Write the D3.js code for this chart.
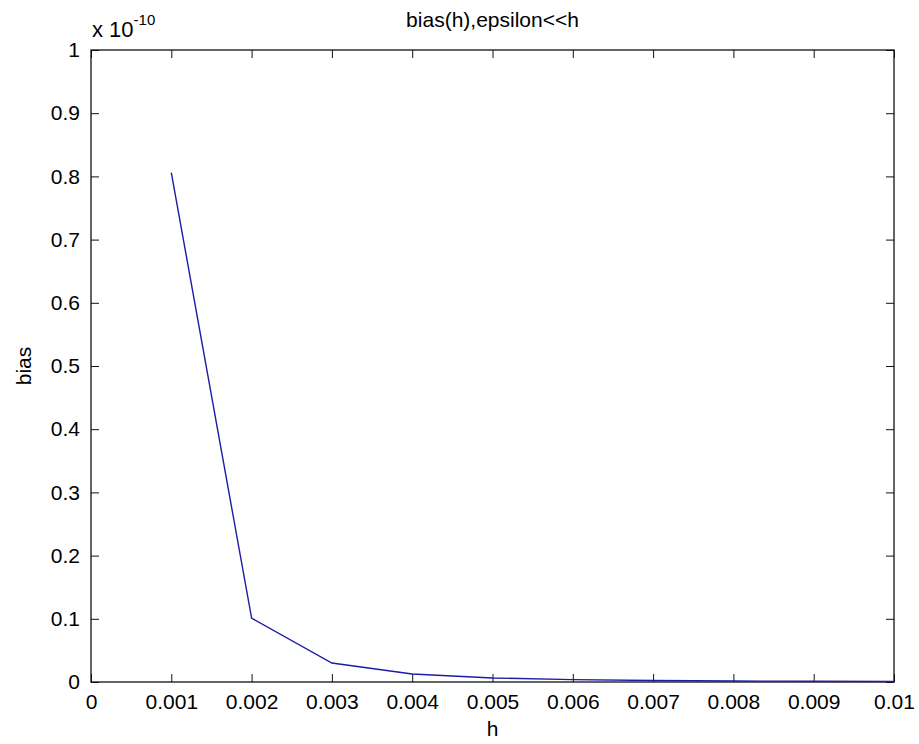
<!DOCTYPE html>
<html><head><meta charset="utf-8">
<script src="https://cdn.jsdelivr.net/npm/d3@7"></script>
<style>body{margin:0;background:#fff;} text{font-family:"Liberation Sans",Arial,sans-serif;fill:#000;}</style>
</head><body>
<svg id="c" width="919" height="744"></svg>
<script>
const hValues = [0.001,0.002,0.003,0.004,0.005,0.006,0.007,0.008,0.009,0.010];
const biasValues = [0.806,0.101,0.030,0.0126,0.0064,0.0037,0.0024,0.0016,0.0011,0.0008];
const xTicks = [0,0.001,0.002,0.003,0.004,0.005,0.006,0.007,0.008,0.009,0.01];
const xTickLabels = ["0","0.001","0.002","0.003","0.004","0.005","0.006","0.007","0.008","0.009","0.01"];
const yTicks = [0,0.1,0.2,0.3,0.4,0.5,0.6,0.7,0.8,0.9,1];
const yTickLabels = ["0","0.1","0.2","0.3","0.4","0.5","0.6","0.7","0.8","0.9","1"];

const L=91,R=894,T=50,B=682;
const svg=d3.select("#c");
const x=d3.scaleLinear().domain([0,0.01]).range([L,R]);
const y=d3.scaleLinear().domain([0,1]).range([B,T]);
const tl=8, fs=21;

const axB=d3.axisBottom(x).tickValues(xTicks).tickFormat((d,i)=>xTickLabels[i]).tickSizeInner(-tl).tickSizeOuter(0).tickPadding(12);
const axT=d3.axisTop(x).tickValues(xTicks).tickFormat("").tickSizeInner(-tl).tickSizeOuter(0);
const axL=d3.axisLeft(y).tickValues(yTicks).tickFormat((d,i)=>yTickLabels[i]).tickSizeInner(-tl).tickSizeOuter(0).tickPadding(11);
const axR=d3.axisRight(y).tickValues(yTicks).tickFormat("").tickSizeInner(-tl).tickSizeOuter(0);

function style(g){g.selectAll("line").attr("stroke","#111");g.select(".domain").remove();g.selectAll("text").attr("font-size",fs).attr("font-family","Liberation Sans, Arial, sans-serif").attr("fill","#000");}
svg.append("g").attr("transform",`translate(0,${B})`).call(axB).call(style);
svg.append("g").attr("transform",`translate(0,${T})`).call(axT).call(style);
svg.append("g").attr("transform",`translate(${L},0)`).call(axL).call(style);
svg.append("g").attr("transform",`translate(${R},0)`).call(axR).call(style);
svg.append("rect").attr("x",L).attr("y",T).attr("width",R-L).attr("height",B-T).attr("fill","none").attr("stroke","#111").attr("stroke-width",1.3);

svg.append("path").datum(hValues.map((h,i)=>[h,biasValues[i]]))
  .attr("d",d3.line().x(d=>x(d[0])).y(d=>y(d[1])))
  .attr("fill","none").attr("stroke","#1c1ca6").attr("stroke-width",1.4);

svg.append("text").attr("x",(L+R)/2).attr("y",27).attr("text-anchor","middle").attr("font-size",21).text("bias(h),epsilon<<h");
svg.append("text").attr("x",(L+R)/2).attr("y",736).attr("text-anchor","middle").attr("font-size",21).text("h");
svg.append("text").attr("transform",`translate(31,${(T+B)/2}) rotate(-90)`).attr("text-anchor","middle").attr("font-size",21).text("bias");
const ex=svg.append("text").attr("x",L+1).attr("y",37).attr("font-size",22);
ex.append("tspan").text("x 10");
ex.append("tspan").attr("dy",-12).attr("font-size",15).text("-10");
</script>
</body></html>
